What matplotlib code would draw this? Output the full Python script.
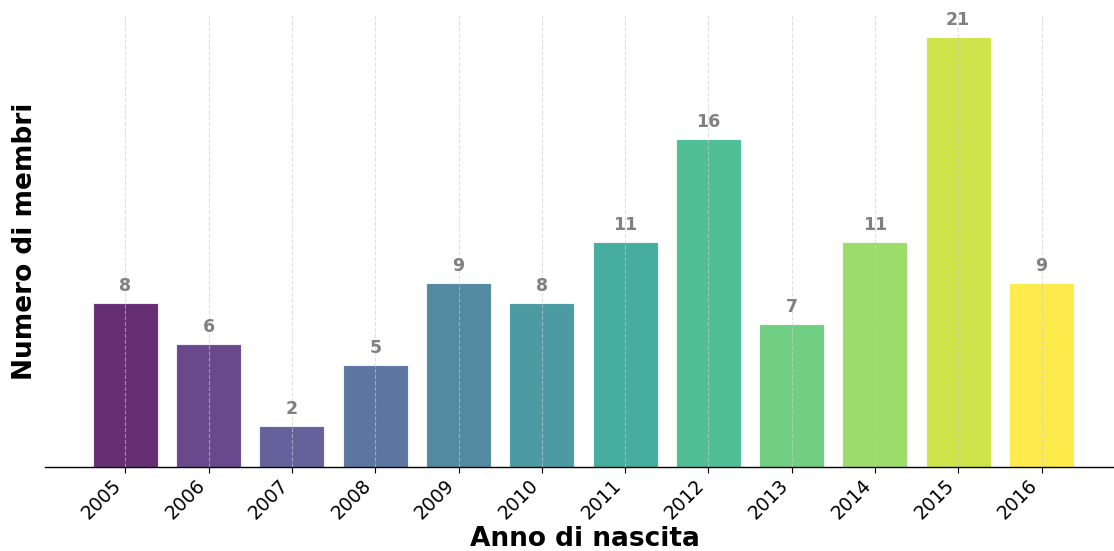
import matplotlib
matplotlib.use("Agg")
import matplotlib.pyplot as plt
import numpy as np

years = ["2005", "2006", "2007", "2008", "2009", "2010", "2011", "2012", "2013", "2014", "2015", "2016"]
counts = [8, 6, 2, 5, 9, 8, 11, 16, 7, 11, 21, 9]

fig = plt.figure(figsize=(11.14, 5.51), dpi=100)
ax = fig.add_axes([0.040, 0.152, 0.96, 0.82])

x = np.arange(len(years))
colors = plt.cm.viridis(np.linspace(0, 1, len(years)))
ax.bar(x, counts, width=0.78, color=colors, alpha=0.82, edgecolor="white", linewidth=0.8, zorder=2)
for xi, c in zip(x, counts):
    ax.text(xi, c + 0.4, str(c), ha="center", va="bottom", fontsize=12.5,
            fontweight="bold", color="#808080", zorder=3)

ax.set_xticks(x)
ax.set_xticklabels(years, rotation=45, ha="right", fontsize=13.5)
ax.tick_params(axis="x", length=4, pad=2)
ax.set_yticks([])
ax.set_xlim(-0.97, 11.87)
ax.set_ylim(0, 22.05)
ax.xaxis.grid(True, linestyle="--", color="#cccccc", alpha=0.6, linewidth=0.8, zorder=3)
ax.set_axisbelow(False)
for s in ["top", "right", "left"]:
    ax.spines[s].set_visible(False)
ax.spines["bottom"].set_linewidth(1.0)
ax.spines["bottom"].set_zorder(4)
ax.set_xlabel("Anno di nascita", fontsize=19, fontweight="bold", labelpad=2)
ax.xaxis.set_label_coords(0.505, -0.129)
ax.set_ylabel("Numero di membri", fontsize=19, fontweight="bold", labelpad=5)

fig.savefig("out.png", dpi=100)
